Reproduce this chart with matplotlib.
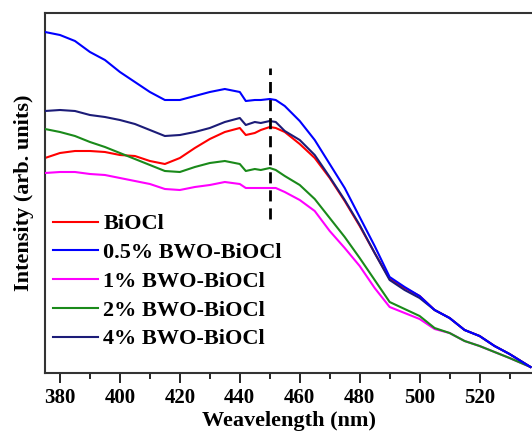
import matplotlib
matplotlib.use("Agg")
from matplotlib import pyplot as plt

# Wavelength grid (nm) and intensities (arb. units)
wavelength = [375, 380, 385, 390, 395, 400, 405, 410, 415, 420, 425, 430, 435, 440,
              442, 445, 447, 450, 452, 455, 460, 465, 470, 475, 480, 485, 490, 495,
              500, 505, 510, 515, 520, 525, 530, 537]

biocl = [215, 220, 222, 222, 221, 218, 217, 212, 209, 215, 225, 234, 241, 245,
         238, 240, 243, 246, 245, 241, 229, 215, 195, 172, 147, 120, 94, 85,
         77, 63, 55, 43, 37, 27, 19, 6]
bwo_05 = [341, 338, 332, 321, 313, 301, 291, 281, 273, 273, 277, 281, 284, 281,
          272, 273, 273, 274, 273, 267, 252, 233, 209, 185, 156, 127, 96, 86,
          77, 63, 55, 43, 37, 27, 19, 6]
bwo_1 = [200, 201, 201, 199, 198, 195, 192, 189, 184, 183, 186, 188, 191, 189,
         185, 185, 185, 185, 185, 181, 173, 162, 142, 125, 107, 85, 66, 60,
         54, 44, 40, 32, 27, 21, 15, 6]
bwo_2 = [244, 241, 237, 231, 226, 220, 214, 208, 202, 201, 206, 210, 212, 209,
         202, 204, 203, 205, 203, 197, 188, 174, 155, 136, 115, 93, 71, 64,
         57, 45, 40, 32, 27, 21, 15, 6]
bwo_4 = [262, 263, 262, 258, 256, 253, 249, 243, 237, 238, 241, 245, 251, 255,
         248, 251, 250, 252, 251, 242, 233, 218, 196, 173, 148, 120, 93, 83,
         75, 63, 55, 43, 37, 27, 19, 6]

labels = ["BiOCl", "0.5% BWO-BiOCl", "1% BWO-BiOCl", "2% BWO-BiOCl", "4% BWO-BiOCl"]
colors = ["#ff0000", "#0000ff", "#ff00ff", "#1a8a1a", "#1c1c78"]
zorders = [2, 6, 3, 4, 5]

# dashed marker at the absorption edge
mark_x = [450, 450]
mark_y = [154, 305]

plt.rcParams["font.family"] = ["Liberation Serif", "DejaVu Serif"]
plt.rcParams["font.weight"] = "bold"

fig = plt.figure(figsize=(5.32, 4.32), dpi=100)
ax = fig.add_axes([45 / 532, 59 / 432, 1 - 45 / 532, 360 / 432])

series = [biocl, bwo_05, bwo_1, bwo_2, bwo_4]
for values, label, color, z in zip(series, labels, colors, zorders):
    ax.plot(wavelength, values, color=color, lw=1.5, label=label, zorder=z)

ax.plot(mark_x, mark_y, color="black", lw=2, ls=(0, (4, 2.5)), zorder=7)

ax.set_xlim(375, 537.5)
ax.set_ylim(0, 360)
ax.set_xticks([380, 400, 420, 440, 460, 480, 500, 520])
ax.set_xticks(range(390, 531, 20), minor=True)
ax.tick_params(axis="x", which="major", direction="out", length=7, width=1.2,
               labelsize=15, pad=4)
ax.tick_params(axis="x", which="minor", direction="out", length=4, width=1.2)
ax.set_yticks([])

for side in ["left", "top", "bottom"]:
    ax.spines[side].set_linewidth(1.5)
    ax.spines[side].set_color("#333333")
ax.spines["right"].set_visible(False)

ax.set_xlabel("Weavelength (nm)", fontsize=16, fontweight="bold", labelpad=2)
ax.set_ylabel("Intensity (arb. units)", fontsize=16, fontweight="bold", labelpad=8)

leg = ax.legend(loc="upper left", bbox_to_anchor=(0.0, 0.464), frameon=False,
                fontsize=16, handlelength=2.05, handletextpad=0.23,
                labelspacing=0.37, borderaxespad=0.0, borderpad=0.35)
for line in leg.get_lines():
    line.set_linewidth(1.5)

fig.savefig("out.png", dpi=100)
